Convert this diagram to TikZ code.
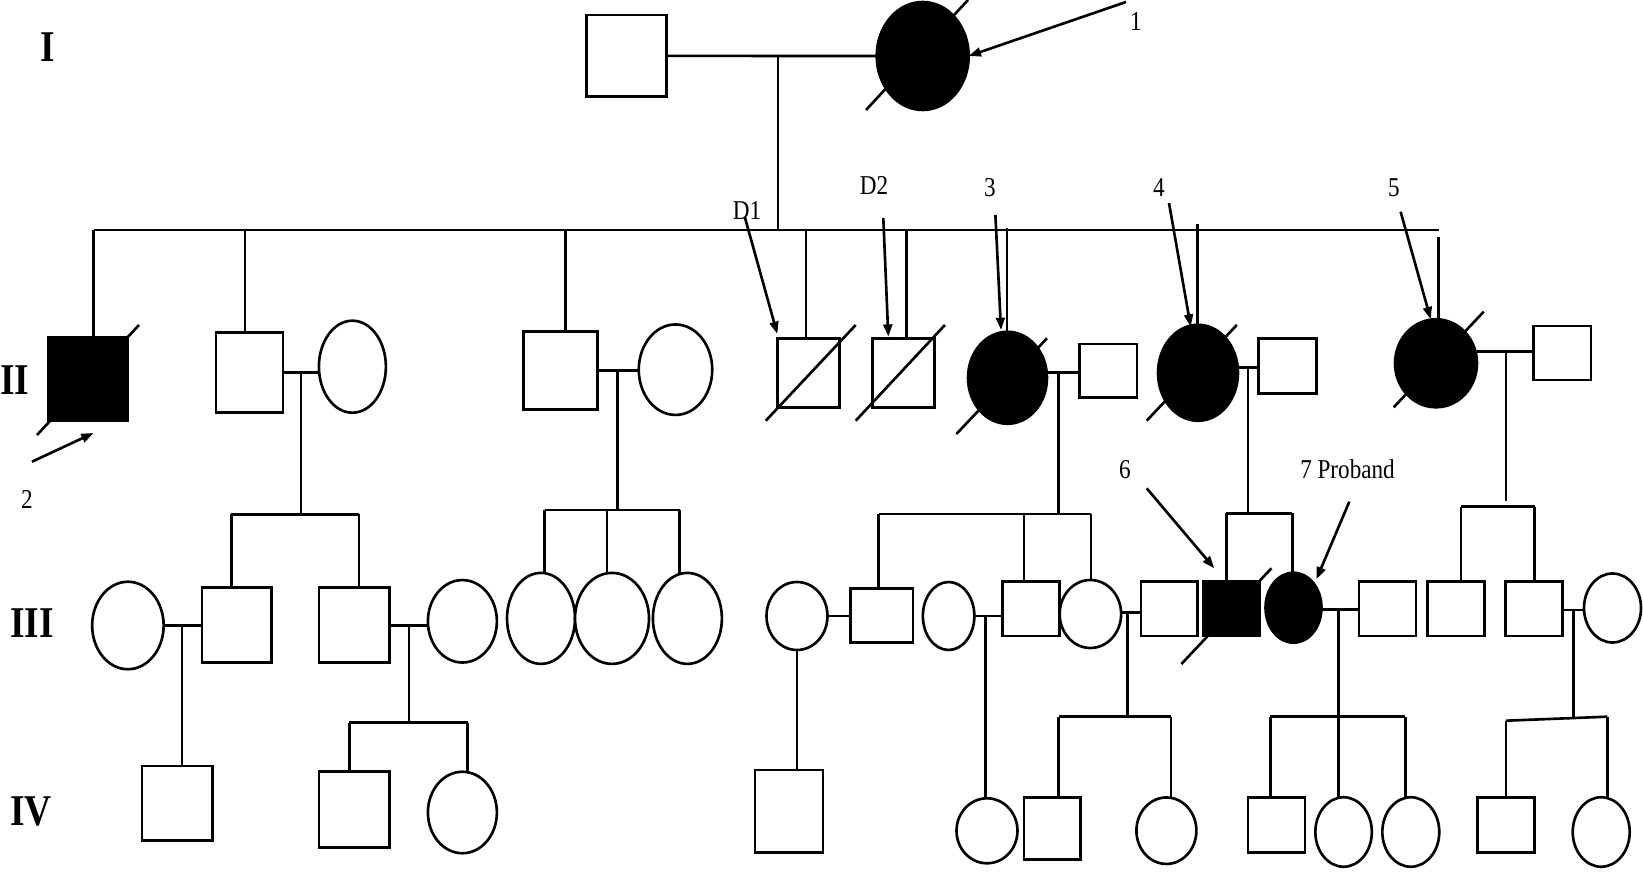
\documentclass[tikz,border=0pt]{standalone}
\usepackage{fontspec}
\setmainfont{Liberation Serif}
\usetikzlibrary{shapes.geometric,arrows.meta}
\newcommand{\hsq}[1]{\scalebox{0.85}[1]{#1}}
\begin{document}
\begin{tikzpicture}[x=0.02cm,y=-0.02cm,
  line width=1.5pt,
  male/.style={draw, rectangle, inner sep=0pt, outer sep=0pt, fill=white},
  female/.style={draw, ellipse, inner sep=0pt, outer sep=0pt, fill=white},
  aff/.style={fill=black},
  sz/.style 2 args={minimum width=#1cm, minimum height=#2cm},
  lab/.style={inner sep=0pt, font=\fontsize{15.5}{15.5}\selectfont},
  gen/.style={inner sep=0pt, font=\fontsize{25}{25}\selectfont\bfseries},
  ptr/.style={-{Triangle[length=7pt,width=5pt]}, line width=1.5pt},
  dead/.style={line width=1.5pt}]
\useasboundingbox (0,0) rectangle (1643,884);

% ---------- generation labels
\node[gen] (gI)   at (48,47)    {\hsq{I}};
\node[gen] (gII)  at (15,380)   {\hsq{II}};
\node[gen] (gIII) at (32,623)   {\hsq{III}};
\node[gen] (gIV)  at (31,811.5) {\hsq{IV}};

% ---------- junction coordinates
\coordinate (m0) at (778,56);
\coordinate (sIIl) at (93.6,230);
\coordinate (sIIr) at (1439.4,230);
\coordinate (dB) at (245,230);
\coordinate (dC) at (565.6,230);
\coordinate (dD) at (806,230);
\coordinate (dE) at (906.6,230);
\coordinate (dF) at (1007,228);
\coordinate (dG) at (1197.7,224);
\coordinate (dH) at (1438.7,236.7);

\coordinate (m2) at (301,372.7);
\coordinate (s2) at (301,514.3);
\coordinate (s2l) at (231.4,514.3);
\coordinate (s2r) at (359,514.3);

\coordinate (m4) at (617.7,370.7);
\coordinate (s4) at (617.7,510);
\coordinate (s4l) at (544.6,510);
\coordinate (s4m) at (607,510);
\coordinate (s4r) at (679.7,510);

\coordinate (m3) at (1058.6,372.7);
\coordinate (s3) at (1058.6,514);
\coordinate (s3l) at (878.7,514);
\coordinate (s3m) at (1024,514);
\coordinate (s3r) at (1091,514);

\coordinate (m5) at (1248,367.3);
\coordinate (s5) at (1248,513.3);
\coordinate (s5l) at (1226.4,513.3);
\coordinate (s5r) at (1292.2,513.3);

\coordinate (m6) at (1505.9,351.7);
\coordinate (s6) at (1505.9,500.7);
\coordinate (s6l) at (1460.8,506.7);
\coordinate (s6r) at (1534.6,506.7);

\coordinate (n1) at (182,625.7);
\coordinate (n3) at (409,625.7);
\coordinate (t3) at (409,722.7);
\coordinate (t3l) at (349.3,722.7);
\coordinate (t3r) at (467.8,722.7);
\coordinate (n6) at (838,616);
\coordinate (n8) at (985.8,616);
\coordinate (n10) at (1127.4,612.3);
\coordinate (t10) at (1127.4,716.7);
\coordinate (t10l) at (1058.6,716.7);
\coordinate (t10r) at (1171,716.7);
\coordinate (n13) at (1338.3,609.3);
\coordinate (t13) at (1338.3,716.7);
\coordinate (t13l) at (1270.4,716.7);
\coordinate (t13r) at (1405.4,716.7);
\coordinate (n16) at (1573.7,610);
\coordinate (t16) at (1573.7,716.7);
\coordinate (t16l) at (1505.9,720.7);
\coordinate (t16r) at (1607.3,716.7);

% ---------- lines (drawn first, nodes on top)
\draw (m0) -- (m0 |- sIIl);
\draw (sIIl) -- (sIIr);
\draw (m2) -- (s2);  \draw (s2l) -- (s2r);
\draw (m4) -- (s4);  \draw (s4l) -- (s4r);
\draw (m3) -- (s3);  \draw (s3l) -- (s3r);
\draw (m5) -- (s5);  \draw (s5l) -- (s5r);
\draw (m6) -- (s6);  \draw (s6l) -- (s6r);
\draw (n3) -- (t3);  \draw (t3l) -- (t3r);
\draw (n10) -- (t10); \draw (t10l) -- (t10r);
\draw (n13) -- (t13); \draw (t13l) -- (t13r);
\draw (n16) -- (t16); \draw (t16l) -- (t16r);

% ---------- generation I
\node[male, sz={1.59}{1.63}] (i1) at (626.5,55.9) {};
\node[female, aff, sz={1.84}{2.16}] (i2) at (922.7,56) {};
\draw (i1.east) -- (i2.west);
\draw[dead] (866,110) -- (968,0);

% ---------- generation II
\node[male, aff, sz={1.60}{1.68}] (ii1) at (88,379) {};
\node[male, sz={1.34}{1.60}] (ii2) at (249.5,372.5) {};
\node[female, sz={1.34}{1.84}] (ii2w) at (352.4,366.7) {};
\node[male, sz={1.48}{1.56}] (ii4) at (560.2,370.8) {};
\node[female, sz={1.47}{1.81}] (ii4w) at (675.5,369.7) {};
\node[male, sz={1.24}{1.38}] (d1) at (808.3,372.8) {};
\node[male, sz={1.24}{1.38}] (d2) at (903.2,372.8) {};
\node[female, aff, sz={1.58}{1.84}] (ii3) at (1007.5,377.8) {};
\node[male, sz={1.15}{1.07}] (ii3h) at (1108.3,370.7) {};
\node[female, aff, sz={1.60}{1.92}] (ii5) at (1198,372.8) {};
\node[male, sz={1.16}{1.10}] (ii5h) at (1287.5,365.8) {};
\node[female, aff, sz={1.64}{1.76}] (ii6) at (1436,363.3) {};
\node[male, sz={1.15}{1.08}] (ii6h) at (1562.3,353) {};

\draw (sIIl) -- (sIIl |- ii1.north);
\draw (dB) -- (dB |- ii2.north);
\draw (dC) -- (dC |- ii4.north);
\draw (dD) -- (dD |- d1.north);
\draw (dE) -- (dE |- d2.north);
\draw (dF) -- (dF |- ii3.north);
\draw (dG) -- (dG |- ii5.north);
\draw (dH) -- (dH |- ii6.north);

\draw (ii2.east |- m2) -- (ii2w.west |- m2);
\draw (ii4.east |- m4) -- (ii4w.west |- m4);
\draw (ii3.east |- m3) -- (ii3h.west |- m3);
\draw (ii5.east |- m5) -- (ii5h.west |- m5);
\draw (ii6.east |- m6) -- (ii6h.west |- m6);

\draw[dead] (37,435) -- (139,325);
\draw[dead] (765.8,420.7) -- (855.7,325);
\draw[dead] (855.7,420.7) -- (944.9,325);
\draw[dead] (956.4,434) -- (1047,338.3);
\draw[dead] (1146.7,420.7) -- (1236.8,325);
\draw[dead] (1393.7,407.3) -- (1483.7,311.7);

% ---------- generation III
\node[female, sz={1.43}{1.75}] (iii1) at (127.9,625.5) {};
\node[male, sz={1.39}{1.51}] (iii2) at (236.6,625) {};
\node[male, sz={1.41}{1.51}] (iii3) at (354.2,625) {};
\node[female, sz={1.38}{1.65}] (iii4) at (462.4,621.3) {};
\node[female, sz={1.36}{1.82}] (iii5a) at (541,618.4) {};
\node[female, sz={1.48}{1.82}] (iii5b) at (612,618.4) {};
\node[female, sz={1.38}{1.82}] (iii5c) at (687.4,618.4) {};
\node[female, sz={1.22}{1.36}] (iii6) at (797,616) {};
\node[male, sz={1.25}{1.09}] (iii7) at (881.8,615.5) {};
\node[female, sz={1.03}{1.36}] (iii8) at (948.6,616) {};
\node[male, sz={1.15}{1.09}] (iii9) at (1031,608.8) {};
\node[female, sz={1.23}{1.36}] (iii10) at (1090.4,614) {};
\node[male, sz={1.14}{1.09}] (iii11) at (1169.3,608.8) {};
\node[male, aff, sz={1.14}{1.09}] (iii12) at (1231.6,608.8) {};
\node[female, aff, sz={1.12}{1.40}] (iii13) at (1293.5,607.7) {};
\node[male, sz={1.14}{1.09}] (iii14) at (1387.4,608.8) {};
\node[male, sz={1.14}{1.09}] (iii15) at (1455.8,608.8) {};
\node[male, sz={1.14}{1.09}] (iii16) at (1534.1,608.8) {};
\node[female, sz={1.14}{1.38}] (iii17) at (1612.5,608) {};

\draw (s2l) -- (s2l |- iii2.north);
\draw (s2r) -- (s2r |- iii3.north);
\draw (s4l) -- (s4l |- iii5a.north);
\draw (s4m) -- (s4m |- iii5b.north);
\draw (s4r) -- (s4r |- iii5c.north);
\draw (s3l) -- (s3l |- iii7.north);
\draw (s3m) -- (s3m |- iii9.north);
\draw (s3r) -- (s3r |- iii10.north);
\draw (s5l) -- (s5l |- iii12.north);
\draw (s5r) -- (s5r |- iii13.north);
\draw (s6l) -- (s6l |- iii15.north);
\draw (s6r) -- (s6r |- iii16.north);

\draw (iii1.east |- n1) -- (iii2.west |- n1);
\draw (iii3.east |- n3) -- (iii4.west |- n3);
\draw (iii6.east |- n6) -- (iii7.west |- n6);
\draw (iii8.east |- n8) -- (iii9.west |- n8);
\draw (iii10.east |- n10) -- (iii11.west |- n10);
\draw (iii13.east |- n13) -- (iii14.west |- n13);
\draw (iii16.east |- n16) -- (iii17.west |- n16);

\draw[dead] (1181.4,664) -- (1271.4,568.3);

% ---------- generation IV
\node[male, sz={1.41}{1.49}] (iv1) at (177.3,803.3) {};
\node[male, sz={1.41}{1.51}] (iv2) at (354.2,809.5) {};
\node[female, sz={1.38}{1.63}] (iv3) at (462.4,812.5) {};
\node[male, sz={1.36}{1.65}] (iv4) at (789.1,811.3) {};
\node[female, sz={1.22}{1.30}] (iv5) at (987,830.8) {};
\node[male, sz={1.13}{1.24}] (iv6) at (1052.2,828.3) {};
\node[female, sz={1.20}{1.33}] (iv7) at (1166.4,830.7) {};
\node[male, sz={1.14}{1.11}] (iv8) at (1276.6,825) {};
\node[female, sz={1.13}{1.39}] (iv9) at (1343.6,832) {};
\node[female, sz={1.14}{1.39}] (iv10) at (1410.8,832) {};
\node[male, sz={1.14}{1.11}] (iv11) at (1506,825) {};
\node[female, sz={1.14}{1.39}] (iv12) at (1601.2,832) {};

\draw (n1) -- (n1 |- iv1.north);
\draw (t3l) -- (t3l |- iv2.north);
\draw (t3r) -- (t3r |- iv3.north);
\draw (iii6.south) -- (iii6.south |- iv4.north);
\draw (n8) -- (n8 |- iv5.north);
\draw (t10l) -- (t10l |- iv6.north);
\draw (t10r) -- (t10r |- iv7.north);
\draw (t13l) -- (t13l |- iv8.north);
\draw (t13) -- (t13 |- iv9.north);
\draw (t13r) -- (t13r |- iv10.north);
\draw (t16l) -- (t16l |- iv11.north);
\draw (t16r) -- (t16r |- iv12.north);

% ---------- labels and pointer arrows
\node[lab] (l1) at (1136,22) {\hsq{1}};
\node[lab] (l2) at (27,499) {\hsq{2}};
\node[lab] (lD1) at (747,211) {\hsq{D1}};
\node[lab] (lD2) at (874,186) {\hsq{D2}};
\node[lab] (l3) at (990,188) {\hsq{3}};
\node[lab] (l4) at (1159,188) {\hsq{4}};
\node[lab] (l5) at (1394,188) {\hsq{5}};
\node[lab] (l6) at (1125,470) {\hsq{6}};
\node[lab] (l7) at (1347.5,469) {\hsq{7 Proband}};

\coordinate (a1) at (1126,2);
\coordinate (a2) at (32,461.7);   \coordinate (b2) at (93.6,433);
\coordinate (aD1) at (744.7,216.7); \coordinate (bD1) at (777.3,334);
\coordinate (aD2) at (883.3,218); \coordinate (bD2) at (888.3,336.7);
\coordinate (a3) at (995.4,215);  \coordinate (b3) at (1001,330);
\coordinate (a4) at (1169,203);   \coordinate (b4) at (1190.7,326.7);
\coordinate (a5) at (1400.6,211.7); \coordinate (b5) at (1430.7,319.3);
\coordinate (a6) at (1146.7,488.3); \coordinate (b6) at (1214.3,568.3);
\coordinate (a7) at (1349.3,501.7); \coordinate (b7) at (1316.4,579.3);

\draw[ptr] (a1) -- (i2.east);
\draw[ptr] (a2) -- (b2);
\draw[ptr] (aD1) -- (bD1);
\draw[ptr] (aD2) -- (bD2);
\draw[ptr] (a3) -- (b3);
\draw[ptr] (a4) -- (b4);
\draw[ptr] (a5) -- (b5);
\draw[ptr] (a6) -- (b6);
\draw[ptr] (a7) -- (b7);
\end{tikzpicture}
\end{document}
